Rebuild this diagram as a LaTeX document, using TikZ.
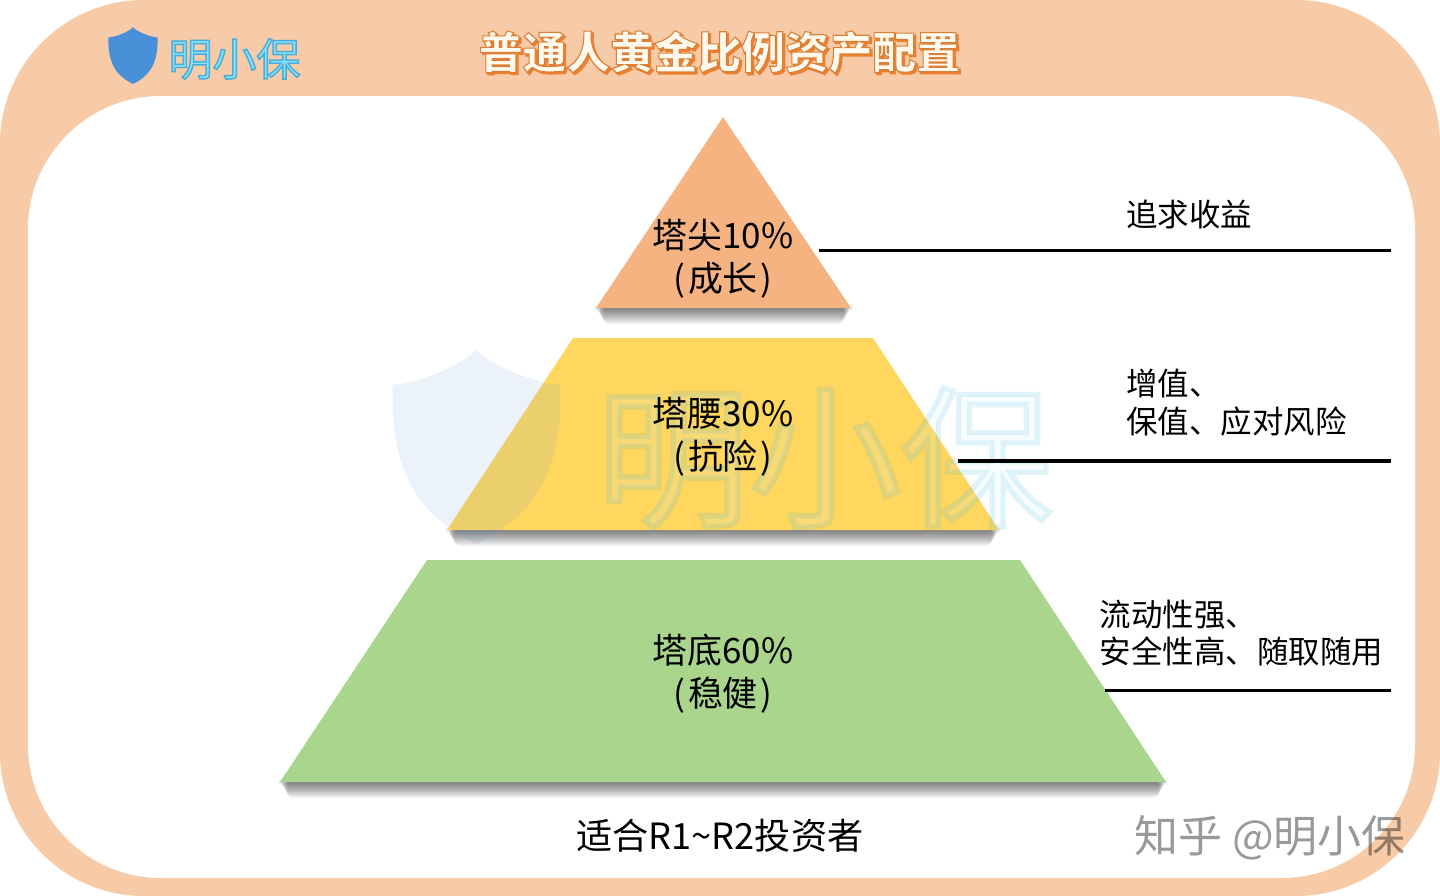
\documentclass[tikz,border=0pt]{standalone}
\usepackage{fontspec}
\setmainfont{Noto Sans CJK SC}
\newcommand{\strokedtext}[4]{\special{pdf:code q 2 Tr #1 w #2 RG #3 rg}#4\special{pdf:code Q}}
\newcommand{\paren}[1]{(\kern1.8pt#1\kern1.8pt)}
\definecolor{frame}{HTML}{F7CBA8}
\definecolor{peak}{HTML}{F6B382}
\definecolor{waist}{HTML}{FFD75F}
\definecolor{base}{HTML}{A9D68C}
\definecolor{shieldblue}{HTML}{4A90D9}
\tikzset{
  layerlabel/.style={font=\fontsize{26.2}{32.2}\selectfont,align=center,text=black},
  sidelabel/.style={font=\fontsize{23.6}{28}\selectfont,align=left,anchor=west,text=black,inner sep=0pt},
  rulerline/.style={line width=2.3pt,black},
}
\newcommand{\shieldpath}{(0,-28.5) .. controls (3,-24.5) and (15,-19) .. (24.5,-18)
  .. controls (25,0) and (22,18) .. (0,28.5) .. controls (-22,18) and (-25,0) .. (-24.5,-18)
  .. controls (-15,-19) and (-3,-24.5) .. (0,-28.5) -- cycle}
\newcommand{\basishadow}[3]{\foreach \i in {1,...,17}{
  \fill[black,opacity=.036,rounded corners=4pt] (#1-2+\i*.55,#3-2) rectangle (#2+2-\i*.55,#3+\i*.95);}}
\begin{document}
\begin{tikzpicture}[x=.75pt,y=-.75pt]
\useasboundingbox (0,0) rectangle (1440,896);
\fill[white] (0,0) rectangle (1440,896);
\fill[frame,rounded corners=108pt] (0,0) rectangle (1440,896);
\fill[white,rounded corners=100pt] (28,96) rectangle (1415,878);

% logo and title
\begin{scope}[shift={(133,55.5)}]
  \fill[shieldblue] \shieldpath;
\end{scope}
\node[font=\fontsize{33}{36}\selectfont,inner sep=0pt] (logo) at (234.5,59)
  {\strokedtext{1.1}{0.28 0.68 0.85}{0.55 0.88 0.98}{明小保}};
\node[font=\fontsize{32.8}{36}\selectfont\bfseries,inner sep=0pt] (titleshadow) at (721.5,54)
  {\strokedtext{1.0}{0.93 0.50 0.18}{0.93 0.50 0.18}{普通人黄金比例资产配置}};
\node[font=\fontsize{32.8}{36}\selectfont\bfseries,inner sep=0pt] (title) at (719.5,52)
  {\strokedtext{0.8}{0.85 0.50 0.22}{1 0.98 0.93}{普通人黄金比例资产配置}};

% pyramid
\basishadow{596}{851}{308}
\basishadow{447}{999}{530}
\basishadow{280}{1166}{782}
\fill[peak] (723,117) -- (851,308) -- (596,308) -- cycle;
\fill[waist] (573,338) -- (873,338) -- (999,530) -- (447,530) -- cycle;
\fill[base] (427,560) -- (1020,560) -- (1166,782) -- (280,782) -- cycle;

% watermark
\begin{scope}[shift={(476.5,446.5)},scale=3.42,opacity=.11]
  \fill[shieldblue] \shieldpath;
\end{scope}
\node[font=\fontsize{114}{120}\selectfont,inner sep=0pt,opacity=.14] (mark) at (825,458)
  {\strokedtext{4}{0.20 0.70 0.85}{0.80 0.95 1}{明小保}};

% layer labels
\node[layerlabel] (top) at (723,258.5) {塔尖10\%\\\paren{成长}};
\node[layerlabel] (mid) at (723,436.5) {塔腰30\%\\\paren{抗险}};
\node[layerlabel] (low) at (723,673.5) {塔底60\%\\\paren{稳健}};

% side notes and rules
\node[sidelabel] (notea) at (1126,214) {追求收益};
\node[sidelabel] (noteb) at (1126,402.5) {增值、\\保值、应对风险};
\node[sidelabel] (notec) at (1099.5,633) {流动性强、\\安全性高、随取随用};
\coordinate (ra) at (819,250.5);  \coordinate (rae) at (1391,250.5);
\coordinate (rb) at (958,461);  \coordinate (rbe) at (1391,461);
\coordinate (rc) at (1105,690.5); \coordinate (rce) at (1391,690.5);
\draw[rulerline] (ra) -- (rae);
\draw[rulerline] (rb) -- (rbe);
\draw[rulerline] (rc) -- (rce);

\node[font=\fontsize{27.1}{32}\selectfont,inner sep=0pt] (fit) at (720,836) {适合R1\textasciitilde R2投资者};
\node[font=\fontsize{33}{36}\selectfont,inner sep=0pt,text=black,text opacity=.4] (zhihu) at (1270,838) {知乎 @明小保};
\end{tikzpicture}
\end{document}
